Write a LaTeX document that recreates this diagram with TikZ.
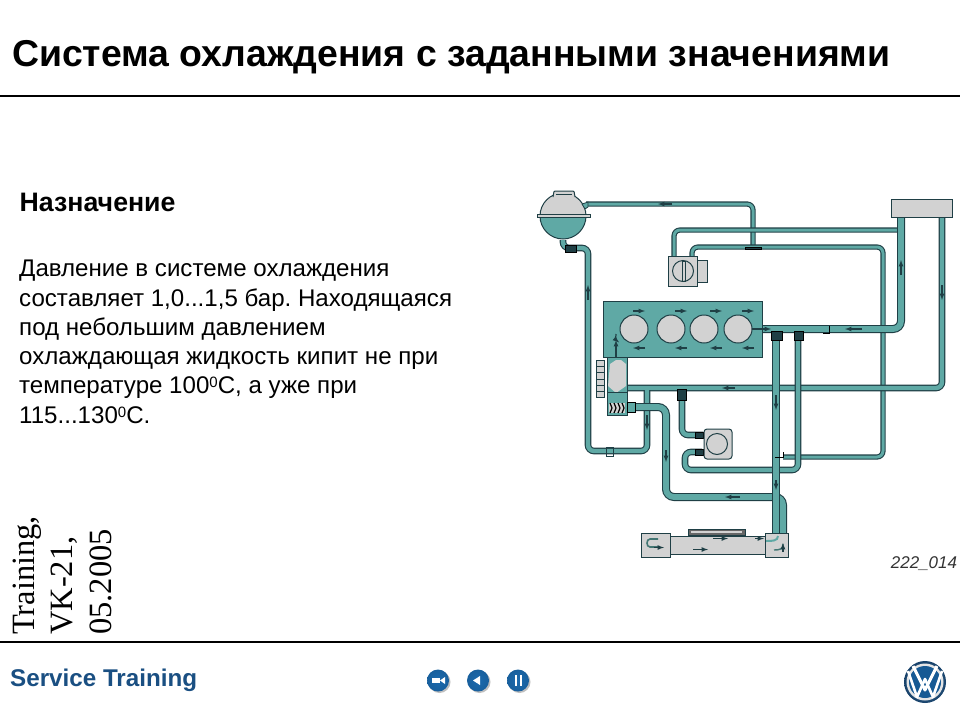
\documentclass[tikz,border=0pt]{standalone}
\usepackage{fontspec}
\setmainfont{Liberation Sans}
\newfontfamily\trainfont{Liberation Serif}
\definecolor{pipeteal}{HTML}{5FA9A5}
\definecolor{pipedark}{HTML}{1F3F45}
\definecolor{partgrey}{HTML}{D2D2D2}
\definecolor{vwblue}{HTML}{1B6AAE}
\definecolor{servblue}{HTML}{1A4F82}
\tikzset{>=latex}
\tikzset{
	pipe/.style={draw=pipedark, line width=1.1pt, double=pipeteal, double distance=4.4pt, rounded corners=6pt},
	thinpipe/.style={pipe, double distance=3pt},
	widepipe/.style={pipe, double distance=5.8pt, rounded corners=8pt},
	part/.style={draw=pipedark, line width=1pt, fill=partgrey},
	flange/.style={draw=black, line width=1pt, fill=pipedark},
	flow/.style={->, draw=pipedark, line width=1.2pt},
	button/.style={circle, minimum size=22pt, inner sep=0pt, draw=none, inner color=vwblue, outer color=vwblue!90!black},
	rule/.style={draw=black, line width=2pt}
}
\begin{document}
\frenchspacing
\begin{tikzpicture}[x=1pt,y=-1pt]
	\useasboundingbox (0,0) rectangle (960,720);
	% texts
	\node (title) [anchor=base west, inner sep=0pt, font=\bfseries\fontsize{37.4}{40}\selectfont] at (12,66) {Система охлаждения с заданными значениями};
	\draw[rule] (0,96) -- (960,96);
	\draw[rule] (0,642) -- (960,642);
	\node (head) [anchor=base west, inner sep=0pt, font=\bfseries\fontsize{26.7}{30}\selectfont] at (19.5,211) {Назначение};
	\node (body) [anchor=north west, inner sep=0pt, align=left, font=\fontsize{24.1}{29.3}\selectfont] at (19,260) {Давление в системе охлаждения\\составляет 1,0...1,5 бар. Находящаяся\\под небольшим давлением\\охлаждающая жидкость кипит не при\\температуре 100\raisebox{6pt}{\fontsize{15}{15}\selectfont 0}С, а уже при\\115...130\raisebox{6pt}{\fontsize{15}{15}\selectfont 0}С.};
	\node (train) [rotate=90, anchor=south west, inner sep=0pt, align=left, font=\trainfont\fontsize{32.5}{38.5}\selectfont] at (112,635) {Training,\\VK-21,\\05.2005};
	\node (service) [anchor=base west, inner sep=0pt, text=servblue, font=\bfseries\fontsize{24.2}{28}\selectfont] at (10,686) {Service Training};
	\node (figno) [anchor=center, inner sep=0pt, text=black!80, font=\itshape\fontsize{17}{20}\selectfont] at (924,564) {222\_014};

	% pipes
	\draw[thinpipe] (586,204) -- (753,204) -- (753,246);
	\draw[thinpipe] (674,258) -- (674,230) -- (901,230);
	\draw[thinpipe] (692,258) -- (692,247) -- (883,247) -- (883,457) -- (783,457);
	\draw[widepipe] (762,329) -- (901,329) -- (901,215);
	\draw[pipe] (627,388) -- (942,388) -- (942,215);
	\draw[pipe] (563,240) -- (563,248) -- (588,248) -- (588,451) -- (647,451) -- (647,390);
	\draw[pipe] (798,338) -- (798,470) -- (685,470) -- (685,452) -- (702,452);
	\draw[pipe] (703,435) -- (682,435) -- (682,398);
	\draw[widepipe] (632,407) -- (666,407) -- (666,497) -- (783,497) -- (783,534);
	\draw[widepipe] (776,338) -- (776,534);

	% flanges on the pipes
	\draw[flange] (771,331) rectangle (782,340);
	\draw[flange] (794,331) rectangle (803,340);
	\draw[flange] (677,389) rectangle (686,400);
	\draw[flange] (695,432) rectangle (703,438);
	\draw[flange] (695,449) rectangle (703,455);
	\draw[flange] (565,245) rectangle (576,252);
	\draw[flange] (745,247) rectangle (761,249);
	\draw[draw=pipedark, line width=0.8pt] (606,447) rectangle (613,456);
	\draw[draw=black, line width=1pt] (775,457) -- (783,457) -- (783,452);
	\draw[draw=black, line width=1pt] (823,333) -- (829,333) -- (829,326);

	% tank
	\path[fill=partgrey] (540,216) arc (180:360:23) -- cycle;
	\path[fill=pipeteal] (540,216) arc (180:0:23) -- cycle;
	\draw[draw=pipedark, line width=1pt] (563,216) circle (23);
	\draw[part] (537,214.5) rectangle (590,217.5);
	\draw[part, rounded corners=1pt] (553,197) -- (554,191) -- (574,191) -- (575,197);
	\draw[draw=pipedark, line width=1pt] (556,194) -- (572,194);
	\draw[draw=pipedark, fill=pipeteal, line width=0.8pt] (582,204) -- (588,202) -- (588,207) -- (585,209) -- cycle;

	% radiator
	\node (radiator) [part, minimum width=61pt, minimum height=18pt, inner sep=0pt] at (921.5,208) {};

	% valve
	\draw[part] (697,260) rectangle (707,282);
	\node (valve) [part, minimum width=29pt, minimum height=30pt, inner sep=0pt] at (683,271) {};
	\draw[draw=pipedark, fill=partgrey, line width=1pt] (683,271) circle (10.5);
	\draw[draw=pipedark, line width=1pt] (682,261) rectangle (685,281);

	% engine
	\node (engine) [draw=pipedark, line width=1pt, fill=pipeteal, minimum width=159pt, minimum height=56pt, inner sep=0pt] at (682.5,329) {};
	\foreach \cx in {634,671,704,738}
	{
		\draw[draw=pipedark, fill=partgrey, line width=1pt] (\cx,329) circle (14);
	}
	\foreach \cx in {633,675,710,742}
	{
		\draw[flow] (\cx,311) -- (\cx+12,311);
		\draw[flow] (\cx+12,348) -- (\cx,348);
	}
	\draw[flow] (616,334) arc (190:130:9);
	\draw[flow] (616,368) -- (616,340);
	\draw[flow] (752,329) -- (771,329);

	% thermostat
	\draw[draw=pipedark, fill=pipeteal, line width=1pt] (607,357) rectangle (627,392);
	\draw[part, draw=none] (610,364) -- (616,360) -- (621,360) -- (626,364) -- (626,386) -- (616,393) -- (608,386) -- cycle;
	\draw[draw=pipedark, fill=pipeteal, line width=1pt] (607,392) rectangle (627,415);
	\path[fill=partgrey] (609,403) rectangle (625,413);
	\foreach \cx in {610,614,618,622}
	{
		\draw[draw=black, line width=1.2pt] (\cx,403) -- (\cx+2,408) -- (\cx,413);
	}
	\draw[flange, fill=pipeteal] (627,402) rectangle (635,412);
	\foreach \cy in {360,366.3,372.6,378.9,385.2,391.5}
	{
		\draw[part, line width=0.8pt] (596,\cy) rectangle (604,\cy+6.3);
	}

	% pump
	\node (pump) [part, minimum width=28pt, minimum height=30pt, inner sep=0pt, rounded corners=3pt] at (718,444) {};
	\draw[draw=pipedark, fill=partgrey, line width=1pt] (717,444) circle (10.5);

	% heater
	\draw[part] (670,536) rectangle (765,554);
	\draw[part] (641,533) rectangle (670,557);
	\draw[part] (765,533) rectangle (788,557);
	\draw[part, fill=black!60] (688,529) rectangle (745,535);
	\draw[draw=partgrey, line width=1.2pt] (691,532) -- (742,532);
	\draw[draw=pipeteal!70!black, line width=1.6pt] (658,539) -- (650,539) .. controls (646,539) and (646,547) .. (650,547) -- (658,547);
	\draw[flow] (654,547.5) -- (664,547.5);
	\draw[draw=pipeteal, line width=2pt] (778,536) .. controls (778,541) and (772,541) .. (766,541);
	\draw[draw=pipeteal!70!black, line width=1.4pt] (783,544) .. controls (783,549) and (780,550) .. (774,550);
	\draw[flow] (783,552) -- (783,543);
	\draw[flow] (713,538.5) -- (728,538.5);
	\draw[flow] (755,538.5) -- (764,538.5);
	\draw[flow] (693,549.5) -- (708,549.5);

	% flow marks on the pipes
	\draw[flow] (672,204) -- (658,204);
	\draw[flow] (588,300) -- (588,285);
	\draw[flow] (901,275) -- (901,260);
	\draw[flow] (942,285) -- (942,300);
	\draw[flow] (862,329) -- (845,329);
	\draw[flow] (735,388) -- (722,388);
	\draw[flow] (647,415) -- (647,430);
	\draw[flow] (666,450) -- (666,462);
	\draw[flow] (776,395) -- (776,410);
	\draw[flow] (776,480) -- (776,490);
	\draw[flow] (740,497) -- (725,497);

	% buttons
	\foreach \bx/\bname in {438/bvideo,478/bback,518/bpause}
	{
		\fill[black!25] (\bx+1.5,682) circle (11);
		\node (\bname) [button] at (\bx,680.5) {};
	}
	\fill[white] (432,678) rectangle (440,683);
	\fill[white] (440,680.5) -- (445,677) -- (445,684) -- cycle;
	\fill[white] (473,680.5) -- (480,676) -- (480,685) -- cycle;
	\fill[white] (514.5,675) rectangle (517,686);
	\fill[white] (519.5,675) rectangle (522,686);

	% logo
	\node (logo) [circle, minimum size=42pt, inner sep=0pt, draw=none, inner color=vwblue!60, outer color=servblue!80!black] at (925,682) {};
	\fill[white!90!black] (925,682) circle (18.5);
	\fill[vwblue!85!black] (925,682) circle (16);
	\draw[white, line width=3pt, line join=round] (913,666) -- (925,690) -- (937,666);
	\draw[white, line width=2.6pt, line join=round] (908,671) -- (917,697) -- (925,679) -- (933,697) -- (942,671);
\end{tikzpicture}
\end{document}
